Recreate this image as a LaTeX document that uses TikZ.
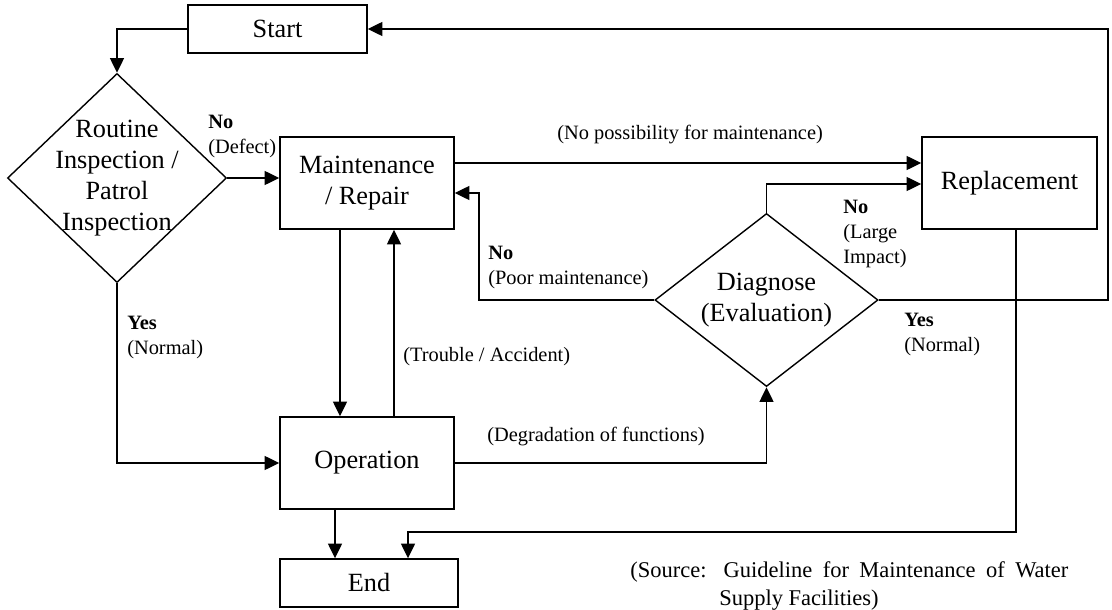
\documentclass[tikz,border=0pt]{standalone}
\usepackage{fontspec}
\setmainfont{Liberation Serif}
\usepackage{tikz}
\usetikzlibrary{shapes.geometric}
\usetikzlibrary{arrows.meta}

\begin{document}
\begin{tikzpicture}[x=0.025cm, y=-0.025cm,
	box/.style={draw, line width=1pt, inner sep=0pt, font=\fontsize{18.7}{22}\selectfont},
	decision/.style={draw, diamond, line width=1pt, align=center, inner sep=-6pt, font=\fontsize{18.7}{22}\selectfont},
	lbl/.style={align=left, inner sep=0pt, font=\fontsize{14.5}{17.7}\selectfont},
	flow/.style={line width=1pt, -{Triangle[length=10.5pt, width=10pt]}}]
			\useasboundingbox (0,0) rectangle (1112,610);
			\node[box, minimum width=4.475cm, minimum height=1.2cm] (start) at (277.5,29) {Start};
			\node[decision, minimum width=5.475cm, minimum height=5.225cm] (routine) at (117,178) {Routine\\Inspection /\\Patrol\\Inspection};
			\node[box, align=center, minimum width=4.35cm, minimum height=2.3cm] (maint) at (367,183) {Maintenance\\/ Repair};
			\node[box, minimum width=4.375cm, minimum height=2.3cm] (repl) at (1009.5,183) {Replacement};
			\node[decision, minimum width=5.575cm, minimum height=4.325cm] (diag) at (766.5,300) {Diagnose\\(Evaluation)};
			\node[box, minimum width=4.35cm, minimum height=2.3cm] (oper) at (367,463) {Operation};
			\node[box, minimum width=4.45cm, minimum height=1.2cm] (end) at (369,583) {End};
			\coordinate (poor) at (479,193);
			\coordinate (ring) at (1108,300);
			\coordinate (bend) at (408,532);
			\draw[flow] (start.west) -| (routine.north);
			\draw[flow] (routine.east) -- (routine.east -| maint.west);
			\draw[flow] (routine.south) |- (oper.west);
			\draw[flow] (maint.south -| 340,0) -- (oper.north -| 340,0);
			\draw[flow] (oper.north -| 394,0) -- (maint.south -| 394,0);
			\draw[flow] (oper.south -| 335,0) -- (end.north -| 335,0);
			\draw[flow] (maint.east |- 0,163) -- (repl.west |- 0,163);
			\draw[flow] (diag.north) |- (repl.west |- 0,184);
			\draw[flow] (diag.west) -| (poor) -- (poor -| maint.east);
			\draw[flow] (diag.east) -- (ring) |- (start.east);
			\draw[flow] (repl.south -| 1016,0) |- (bend) -- (bend |- end.north);
			\draw[flow] (oper.east) -| (diag.south);
			\node[lbl, anchor=north west] (defect) at (208,115) {\textbf{No}\\(Defect)};
			\node[lbl, anchor=north west] (normal) at (127,316) {\textbf{Yes}\\(Normal)};
			\node[lbl, anchor=west] (trouble) at (403,357) {(Trouble / Accident)};
			\node[lbl, anchor=west] (degrade) at (487,437) {(Degradation of functions)};
			\node[lbl, anchor=west] (nomaint) at (557,135) {(No possibility for maintenance)};
			\node[lbl, anchor=north west] (poorlbl) at (488,246) {\textbf{No}\\(Poor maintenance)};
			\node[lbl, anchor=north west] (impact) at (843,200) {\textbf{No}\\(Large\\Impact)};
			\node[lbl, anchor=north west] (fine) at (904,313) {\textbf{Yes}\\(Normal)};
			\node[anchor=north west, inner sep=0pt, font=\fontsize{16}{20}\selectfont] (src) at (630,561) {\parbox[t]{10.95cm}{\hangindent=2.225cm \hangafter=1 (Source: Guideline for Maintenance of Water\linebreak Supply Facilities)}};
\end{tikzpicture}
\end{document}
